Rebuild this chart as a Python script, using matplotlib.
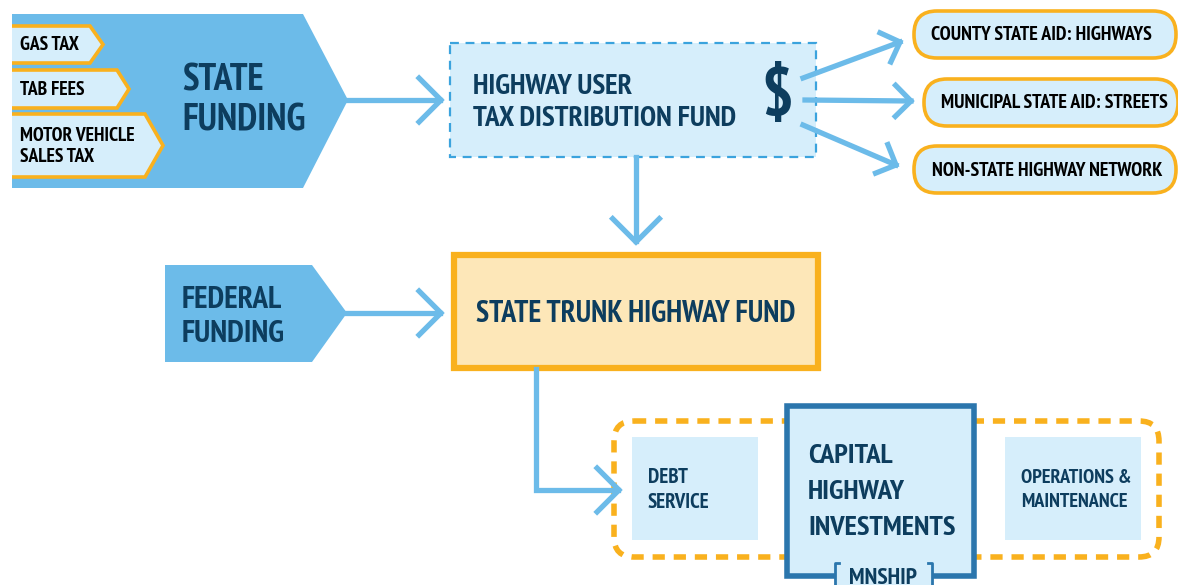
import matplotlib
matplotlib.use("Agg")
import numpy as np
import matplotlib.pyplot as plt
from matplotlib.patches import Polygon, Rectangle, FancyBboxPatch

plt.rcParams["font.family"] = ["PT Sans Narrow", "DejaVu Sans"]
plt.rcParams["font.stretch"] = "condensed"
plt.rcParams["font.weight"] = "bold"

# labels of the diagram
tax_sources = ["GAS TAX", "TAB FEES", "MOTOR VEHICLE\nSALES TAX"]
state_label = "STATE\nFUNDING"
federal_label = "FEDERAL\nFUNDING"
hutdf_label = "HIGHWAY USER\nTAX DISTRIBUTION FUND"
trunk_label = "STATE TRUNK HIGHWAY FUND"
local_aid = ["COUNTY STATE AID: HIGHWAYS", "MUNICIPAL STATE AID: STREETS",
             "NON-STATE HIGHWAY NETWORK"]
uses = ["DEBT\nSERVICE", "CAPITAL\nHIGHWAY\nINVESTMENTS", "OPERATIONS &\nMAINTENANCE"]
plan_label = "MNSHIP"

BLUE = "#6CBBE9"
LIGHT = "#D6EEFB"
ORANGE = "#F9B11E"
CREAM = "#FDE7B8"
NAVY = "#0D3D5E"
DARKBLUE = "#2B76AD"
DASHBLUE = "#3BA3DD"

fig = plt.figure(figsize=(11.78, 5.85), dpi=100)
ax = fig.add_axes([0, 0, 1, 1])
ax.set_xlim(0, 1178)
ax.set_ylim(585, 0)
ax.axis("off")


def chevron(x, y, ang=0.0, s=23):
    # open arrow head with its tip at (x, y), pointing along ang (radians)
    p1 = (x - s * np.cos(ang - np.pi / 4), y - s * np.sin(ang - np.pi / 4))
    p2 = (x - s * np.cos(ang + np.pi / 4), y - s * np.sin(ang + np.pi / 4))
    ax.plot([p1[0], x, p2[0]], [p1[1], y, p2[1]], color=BLUE, lw=3.8,
            solid_joinstyle="miter", zorder=3)


# state funding pentagon
ax.add_patch(Polygon([(12, 14), (303, 14), (348, 100), (303, 188), (12, 188)],
                     closed=True, fc=BLUE, ec="none"))
tabs = [(26, 63, 90, 103), (70, 108, 117, 129), (114, 177, 145, 163)]
for (y0, y1, xf, xp), lab in zip(tabs, tax_sources):
    ym = (y0 + y1) / 2
    ax.add_patch(Polygon([(12, y0), (xf, y0), (xp, ym), (xf, y1), (12, y1)],
                         closed=False, fc=LIGHT, ec=ORANGE, lw=2.6, joinstyle="miter"))
    ax.text(20, ym + 1, lab, color="black", fontsize=14,
            va="center", ha="left", linespacing=1.25)
ax.text(182, 101, state_label, color=NAVY, fontsize=27,
        va="center", ha="left", linespacing=1.2)

# arrow to HUTDF
ax.plot([348, 440], [100, 100], color=BLUE, lw=3.8, zorder=2)
chevron(441, 100, s=31)

# HUTDF box
ax.add_patch(Rectangle((450, 43), 366, 114, fc=LIGHT, ec=DASHBLUE, lw=1.6,
                       linestyle=(0, (4, 3))))
ax.text(473, 103, hutdf_label, color=NAVY, fontsize=21,
        va="center", ha="left", linespacing=1.35)
ax.text(777, 98, "$", color=NAVY, fontsize=48,
        va="center", ha="center")

# arrows to local aid
ends = [((803, 78), (900, 42)), ((805, 100), (911, 101)), ((803, 125), (896, 165))]
for a, b in ends:
    ax.plot([a[0], b[0]], [a[1], b[1]], color=BLUE, lw=3.8)
    chevron(b[0], b[1], np.arctan2(b[1] - a[1], b[0] - a[0]), s=22)

pills = [(914, 11, 262, 47), (924, 79, 254, 47), (914, 146, 262, 47)]
text_x = [1041, 1054, 1047]
for (x, y, w, h), tx, lab in zip(pills, text_x, local_aid):
    ax.add_patch(FancyBboxPatch((x, y), w, h, boxstyle="round,pad=0,rounding_size=23",
                                fc=LIGHT, ec=ORANGE, lw=2.6))
    ax.text(tx, y + h / 2 + 1, lab, color="black", fontsize=14.3,
            va="center", ha="center")

# down arrow to trunk fund
ax.plot([636, 636], [157, 241], color=BLUE, lw=3.8)
chevron(636, 242, np.pi / 2, s=33)

# federal funding
ax.add_patch(Polygon([(165, 265), (312, 265), (347, 313), (312, 362), (165, 362)],
                     closed=True, fc=BLUE, ec="none"))
ax.text(182, 317, federal_label, color=NAVY, fontsize=22.5,
        va="center", ha="left", linespacing=1.3)
ax.plot([347, 440], [313, 313], color=BLUE, lw=3.8)
chevron(441, 313, s=31)

# trunk fund box
ax.add_patch(Rectangle((454, 255), 364, 113, fc=CREAM, ec=ORANGE, lw=4.5))
ax.text(636, 314, trunk_label, color=NAVY, fontsize=21.5,
        va="center", ha="center")

# path to uses
ax.plot([536, 536, 618], [369, 490, 490], color=BLUE, lw=3.8, solid_joinstyle="miter")
chevron(619, 490, s=31)

# dashed group
ax.add_patch(FancyBboxPatch((614, 421), 545, 136, boxstyle="round,pad=0,rounding_size=20",
                            fc="none", ec=ORANGE, lw=4, linestyle=(0, (2.2, 1.6))))

ax.add_patch(Rectangle((632, 437), 126, 103, fc=LIGHT, ec="none"))
ax.text(648, 490, uses[0], color=NAVY, fontsize=15,
        va="center", ha="left", linespacing=1.4)
ax.add_patch(Rectangle((1005, 437), 136, 103, fc=LIGHT, ec="none"))
ax.text(1021, 490, uses[2], color=NAVY, fontsize=14.5,
        va="center", ha="left", linespacing=1.45)

ax.add_patch(Rectangle((787, 406), 187, 170, fc=LIGHT, ec=DARKBLUE, lw=4, zorder=4))
ax.text(808, 492, uses[1], color=NAVY, fontsize=20.5,
        va="center", ha="left", linespacing=1.65, zorder=5)

# MNSHIP tag
ax.add_patch(Rectangle((835, 563), 97, 30, fc=LIGHT, ec="none", zorder=6))
for xb, sgn in [(835, 1), (932, -1)]:
    ax.plot([xb + sgn * 4, xb, xb, xb + sgn * 4], [563, 563, 590, 590],
            color=DARKBLUE, lw=2, zorder=7)
ax.text(883, 579, plan_label, color=NAVY, fontsize=17,
        va="center", ha="center", zorder=7)

fig.savefig("out.png", dpi=100)
